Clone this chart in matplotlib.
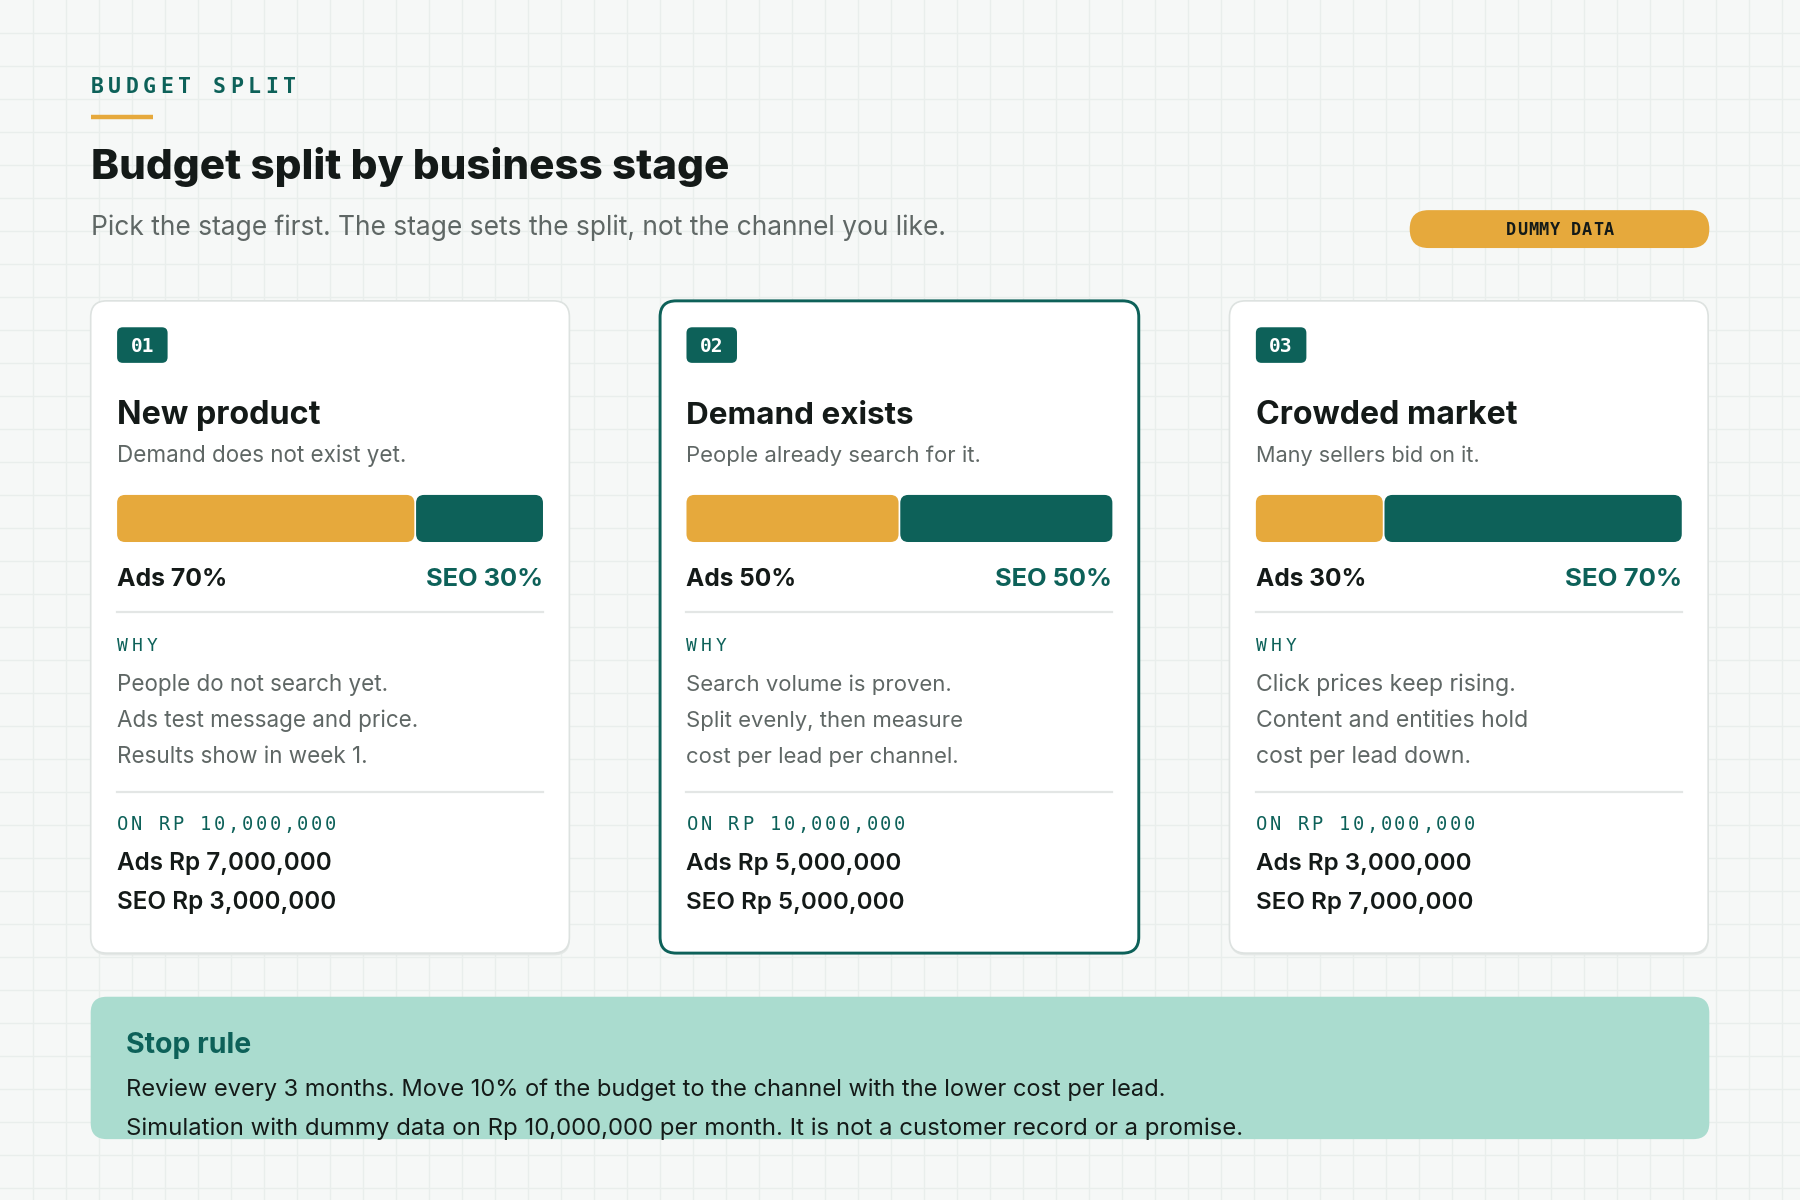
import matplotlib
matplotlib.use("Agg")
import matplotlib.pyplot as plt
from matplotlib.patches import FancyBboxPatch
import numpy as np

# ---- content -------------------------------------------------------------
eyebrow = "BUDGET SPLIT"
title = "Budget split by business stage"
subtitle = "Pick the stage first. The stage sets the split, not the channel you like."
badge_text = "DUMMY DATA"

stage_no = ["01", "02", "03"]
stage_names = ["New product", "Demand exists", "Crowded market"]
stage_notes = ["Demand does not exist yet.", "People already search for it.",
               "Many sellers bid on it."]
ads_pct = [70, 50, 30]
seo_pct = [30, 50, 70]
why_lines = [
    ["People do not search yet.", "Ads test message and price.", "Results show in week 1."],
    ["Search volume is proven.", "Split evenly, then measure", "cost per lead per channel."],
    ["Click prices keep rising.", "Content and entities hold", "cost per lead down."],
]
budget_label = "ON RP 10,000,000"
ads_rp = ["7,000,000", "5,000,000", "3,000,000"]
seo_rp = ["3,000,000", "5,000,000", "7,000,000"]
highlight = 1

stop_title = "Stop rule"
stop_lines = ["Review every 3 months. Move 10% of the budget to the channel with the lower cost per lead.",
              "Simulation with dummy data on Rp 10,000,000 per month. It is not a customer record or a promise."]

# ---- style ---------------------------------------------------------------
BG = "#f6f8f7"
GRID = "#e9eeec"
TEAL = "#0d6159"
GOLD = "#e6a93c"
DARK = "#141a18"
GREY = "#5f6765"
CARD_EDGE = "#dde2e0"
RULE = "#e3e6e5"
MINT = "#aadccf"
SANS = ["Inter", "DejaVu Sans"]
MONO = ["DejaVu Sans Mono"]

W, H = 1568, 1045
SX = 1800 / W

fig = plt.figure(figsize=(18, 12), dpi=100)
fig.patch.set_facecolor(BG)
ax = fig.add_axes([0, 0, 1, 1])
ax.set_xlim(0, W)
ax.set_ylim(H, 0)
ax.axis("off")
renderer = fig.canvas.get_renderer()

# background grid
step = 33 / SX
for gx in np.arange(step, W, step):
    ax.plot([gx, gx], [0, H], color=GRID, lw=1, zorder=0)
for gy in np.arange(step, H, step):
    ax.plot([0, W], [gy, gy], color=GRID, lw=1, zorder=0)


def fit_text(x, y, s, width, ha="left", **kw):
    """Place text and scale its font so it spans `width` reference pixels."""
    t = ax.text(x, y, s, fontsize=10, ha=ha, va="baseline", **kw)
    bw = t.get_window_extent(renderer).width
    t.set_fontsize(10 * width * SX / bw)
    return t


def spaced(x, y, s, pitch, size, **kw):
    # letter-spaced mono caption, one glyph at a time
    for i, ch in enumerate(s):
        ax.text(x + i * pitch, y, ch, fontsize=size, family=MONO,
                ha="left", va="baseline", **kw)


def rbox(x, y, w, h, r, fc, ec="none", lw=0, z=1):
    p = FancyBboxPatch((x, y), w, h, boxstyle=f"round,pad=0,rounding_size={r}",
                       fc=fc, ec=ec, lw=lw, zorder=z)
    ax.add_patch(p)
    return p


# ---- header --------------------------------------------------------------
spaced(79, 81, eyebrow, 15.2, 15.5, color=TEAL, weight="bold", zorder=3)
ax.plot([79, 133], [101.5, 101.5], color=GOLD, lw=3.2, solid_capstyle="butt", zorder=3)
fit_text(79, 156, title, 556, family=SANS, weight="heavy", color=DARK, zorder=3)
fit_text(79, 205, subtitle, 749, family=SANS, color=GREY, zorder=3)

rbox(1228, 183, 261, 33, 16.5, GOLD, z=2)
spaced(1312, 205, badge_text, 9.45, 12.2, color=DARK, weight="bold", zorder=3)

# ---- cards ---------------------------------------------------------------
card_x = [79, 575, 1071]
card_w, card_top, card_h = 417, 262, 568
inner_w = 371
name_w = [177, 198, 228]
note_w = [253, 258, 196]
why_w = [237, 232, 229]

for i, x0 in enumerate(card_x):
    if i == highlight:
        rbox(x0, card_top, card_w, card_h, 14, "white", ec=TEAL, lw=2.1, z=1)
    else:
        rbox(x0 + 0.5, card_top + 2, card_w, card_h, 14, "#e4e8e6", z=1)
        rbox(x0, card_top, card_w, card_h, 14, "white", ec=CARD_EDGE, lw=1.2, z=1)
    lx = x0 + 23
    rbox(lx, 285, 44, 31, 5, TEAL, z=2)
    ax.text(lx + 22, 306.5, stage_no[i], fontsize=14, family=MONO, weight="bold",
            color="white", ha="center", va="baseline", zorder=3)

    fit_text(lx, 369, stage_names[i], name_w[i], family=SANS, weight="bold",
             color=DARK, zorder=3)
    fit_text(lx, 402, stage_notes[i], note_w[i], family=SANS, color=GREY, zorder=3)

    # split bar
    bar_top, bar_h, gap = 431, 41, 1.5
    ads_w = inner_w * ads_pct[i] / 100
    rbox(lx, bar_top, ads_w - gap / 2, bar_h, 7, GOLD, z=2)
    rbox(lx + ads_w + gap / 2, bar_top, inner_w - ads_w - gap / 2, bar_h, 7, TEAL, z=2)

    fit_text(lx, 510, f"Ads {ads_pct[i]}%", 96, family=SANS, weight="bold", color=DARK, zorder=3)
    fit_text(lx + inner_w, 510, f"SEO {seo_pct[i]}%", 102, ha="right", family=SANS,
             weight="bold", color=TEAL, zorder=3)

    ax.plot([lx, lx + inner_w], [533, 533], color=RULE, lw=1.6, zorder=2)
    spaced(lx, 567, "WHY", 12.8, 13, color=TEAL, zorder=3)
    first = fit_text(lx, 602, why_lines[i][0], why_w[i], family=SANS, color=GREY, zorder=3)
    for k, line in enumerate(why_lines[i][1:], start=1):
        ax.text(lx, 602 + 31.2 * k, line, fontsize=first.get_fontsize(), family=SANS,
                color=GREY, va="baseline", zorder=3)

    ax.plot([lx, lx + inner_w], [690, 690], color=RULE, lw=1.6, zorder=2)
    spaced(lx, 723, budget_label, 12.05, 13.5, color=TEAL, zorder=3)
    a = fit_text(lx, 758, f"Ads Rp {ads_rp[i]}", 188, family=SANS, weight="semibold",
                 color=DARK, zorder=3)
    ax.text(lx, 792, f"SEO Rp {seo_rp[i]}", fontsize=a.get_fontsize(), family=SANS,
            weight="semibold", color=DARK, va="baseline", zorder=3)

# ---- stop rule -----------------------------------------------------------
rbox(79, 868, 1410, 124, 14, MINT, z=1)
fit_text(110, 917, stop_title, 109, family=SANS, weight="bold", color=TEAL, zorder=3)
fit_text(110, 954, stop_lines[0], 906, family=SANS, color=DARK, zorder=3)
fit_text(110, 988, stop_lines[1], 977, family=SANS, color=DARK, zorder=3)

fig.savefig("out.png", dpi=100, facecolor=BG)
